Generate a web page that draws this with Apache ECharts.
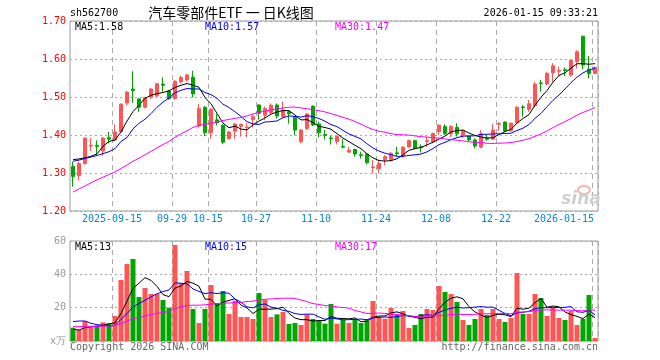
<!DOCTYPE html>
<html><head><meta charset="utf-8">
<script src="https://cdn.jsdelivr.net/npm/echarts@6/dist/echarts.min.js"></script>
<style>html,body{margin:0;padding:0;background:#fff}#c{width:660px;height:360px}</style>
</head><body><div id="c"></div>
<script>
const dates = [
'2025-09-04','2025-09-05','2025-09-08','2025-09-09','2025-09-10','2025-09-11','2025-09-12','2025-09-15','2025-09-16','2025-09-17',
'2025-09-18','2025-09-19','2025-09-22','2025-09-23','2025-09-24','2025-09-25','2025-09-26','2025-09-29','2025-09-30','2025-10-09',
'2025-10-10','2025-10-13','2025-10-14','2025-10-15','2025-10-16','2025-10-17','2025-10-20','2025-10-21','2025-10-22','2025-10-23',
'2025-10-24','2025-10-27','2025-10-28','2025-10-29','2025-10-30','2025-10-31','2025-11-03','2025-11-04','2025-11-05','2025-11-06',
'2025-11-07','2025-11-10','2025-11-11','2025-11-12','2025-11-13','2025-11-14','2025-11-17','2025-11-18','2025-11-19','2025-11-20',
'2025-11-21','2025-11-24','2025-11-25','2025-11-26','2025-11-27','2025-11-28','2025-12-01','2025-12-02','2025-12-03','2025-12-04',
'2025-12-05','2025-12-08','2025-12-09','2025-12-10','2025-12-11','2025-12-12','2025-12-15','2025-12-16','2025-12-17','2025-12-18',
'2025-12-19','2025-12-22','2025-12-23','2025-12-24','2025-12-25','2025-12-26','2025-12-29','2025-12-30','2025-12-31','2026-01-05',
'2026-01-06','2026-01-07','2026-01-08','2026-01-09','2026-01-12','2026-01-13','2026-01-14','2026-01-15'];

const opens = [1.317,1.293,1.325,1.371,1.373,1.358,1.393,1.387,1.409,1.484,
1.521,1.495,1.473,1.500,1.503,1.534,1.516,1.496,1.540,1.545,
1.552,1.424,1.473,1.406,1.440,1.425,1.391,1.410,1.423,1.419,
1.441,1.479,1.452,1.459,1.479,1.448,1.461,1.447,1.382,1.417,
1.476,1.429,1.401,1.392,1.383,1.370,1.355,1.362,1.348,1.350,
1.314,1.311,1.335,1.336,1.353,1.345,1.369,1.385,1.369,1.383,
1.382,1.409,1.422,1.403,1.420,1.400,1.397,1.387,1.368,1.392,
1.389,1.428,1.434,1.411,1.432,1.474,1.468,1.477,1.537,1.534,
1.564,1.568,1.572,1.558,1.593,1.660,1.573,1.562];
const closes = [1.291,1.325,1.392,1.373,1.370,1.392,1.389,1.408,1.481,1.513,
1.517,1.473,1.499,1.521,1.535,1.531,1.496,1.541,1.551,1.558,
1.508,1.470,1.406,1.468,1.432,1.381,1.408,1.429,1.428,1.421,
1.448,1.457,1.470,1.478,1.450,1.466,1.456,1.413,1.413,1.455,
1.426,1.406,1.399,1.390,1.396,1.368,1.360,1.350,1.346,1.327,
1.316,1.325,1.343,1.352,1.351,1.368,1.385,1.365,1.367,1.385,
1.404,1.426,1.404,1.422,1.403,1.410,1.387,1.371,1.403,1.389,
1.413,1.430,1.411,1.431,1.473,1.472,1.482,1.534,1.535,1.562,
1.582,1.570,1.570,1.596,1.619,1.584,1.562,1.578];
const lows = [1.264,1.280,1.322,1.358,1.347,1.345,1.378,1.385,1.405,1.478,
1.485,1.461,1.470,1.495,1.500,1.514,1.492,1.492,1.536,1.540,
1.499,1.420,1.397,1.390,1.425,1.376,1.388,1.390,1.396,1.394,
1.420,1.440,1.440,1.455,1.443,1.445,1.430,1.399,1.378,1.413,
1.423,1.394,1.388,1.375,1.375,1.365,1.353,1.343,1.338,1.323,
1.299,1.299,1.320,1.330,1.343,1.340,1.366,1.362,1.354,1.369,
1.378,1.400,1.400,1.395,1.396,1.392,1.384,1.365,1.365,1.385,
1.387,1.411,1.409,1.409,1.430,1.448,1.461,1.473,1.514,1.531,
1.540,1.555,1.555,1.553,1.575,1.573,1.549,1.560];
const highs = [1.330,1.330,1.393,1.392,1.386,1.395,1.408,1.428,1.483,1.515,
1.568,1.497,1.500,1.524,1.537,1.552,1.518,1.545,1.556,1.560,
1.569,1.482,1.476,1.470,1.455,1.428,1.410,1.432,1.430,1.431,
1.455,1.481,1.475,1.483,1.483,1.488,1.466,1.450,1.415,1.458,
1.478,1.435,1.413,1.398,1.398,1.389,1.369,1.364,1.356,1.352,
1.334,1.334,1.347,1.356,1.369,1.370,1.388,1.388,1.375,1.396,
1.406,1.428,1.428,1.426,1.431,1.414,1.399,1.391,1.413,1.400,
1.429,1.435,1.436,1.433,1.476,1.479,1.492,1.540,1.545,1.566,
1.589,1.580,1.578,1.600,1.623,1.661,1.608,1.580];
const volumes = [8.0,6.6,12,8.4,9.2,11.2,10.6,15,36.6,46.2,
49.2,26.4,31.8,28.2,28.2,24.6,20,57.6,34.6,42,
19.2,10.8,19.2,33.6,22.8,30,16.2,24.2,14.4,14.4,
13.2,28.8,24.8,14.4,16,17.4,10.2,10.8,9.6,16,
13.2,12,10.4,22.2,10.4,12.6,10.8,13.2,10.8,12.4,
24,14.6,13.4,19.8,15.6,18,7.8,9.6,16.2,19.2,
18.6,33,29.4,28.2,23.4,12.6,9.6,13.2,19.2,15.6,
19.2,13.2,11.4,13.8,40.8,16.2,16.2,28.2,25.8,15,
19.8,13.8,12.6,18,9.6,13.2,27.6,1.8];

// moving-average values before enough in-window days exist
const priceMa5Head = [1.335,1.337,1.340,1.344];
const priceMa10Head = [1.331,1.334,1.338,1.342,1.346,1.351,1.356,1.364,1.383];
const priceMa30Head = [1.250,1.258,1.266,1.274,1.282,1.289,1.296,1.303,1.312,1.321,1.331,1.339,1.348,1.357,1.366,1.375,1.383,1.394,1.403,1.411,1.420,1.425,1.428,1.431,1.434,1.438,1.441,1.444,1.446];
const volMa5Head = [7,6.6,8,8.6];
const volMa10Head = [11.6,12,12,10.6,9.8,9.4,9,9.4,13];
const volMa30Head = [8.6,8.6,8.8,8.8,8.8,9.0,9.0,9.4,10.5,11.9,13.4,14.1,15.0,15.8,16.6,17.2,17.7,19.5,20.5,21.3,21.5,21.5,21.7,22.2,22.4,22.7,22.8,23.0,23.2];

const tickDates = ['2025-09-15','2025-09-29','2025-10-15','2025-10-27','2025-11-10','2025-11-24','2025-12-08','2025-12-22','2026-01-15'];
const tickTexts = ['2025-09-15','09-29','10-15','10-27','11-10','11-24','12-08','12-22','2026-01-15'];
const priceTicks = [1.2,1.7,0.1];
const volTicks = [0,60,20];

const UP = '#ff5555', DOWN = '#00a600';
const MONO = 'DejaVu Sans Mono';

function ma(src, n, head) {
  return src.map((_, i) => {
    if (i < n - 1) return head[i];
    let s = 0; for (let k = i - n + 1; k <= i; k++) s += src[k];
    return +(s / n).toFixed(4);
  });
}
const tickSet = new Set(tickDates.map(d => dates.indexOf(d)));
const tickMap = {}; tickDates.forEach((d, k) => tickMap[d] = tickTexts[k]);
const lastTick = tickDates[tickDates.length - 1];

const kData = dates.map((_, i) => [opens[i], closes[i], lows[i], highs[i]]);
const volData = volumes.map((v, i) => ({ value: v, itemStyle: { color: closes[i] >= opens[i] ? UP : DOWN } }));

const vLine = { show: true, interval: (i) => tickSet.has(i), lineStyle: { color: '#aaa', type: [5, 4], width: 1 } };

function t(x, y, text, color, opt) {
  return Object.assign({ type: 'text', x: x, y: y, z: 100,
    style: Object.assign({ text: text, fill: color, font: '10px "' + MONO + '"', align: 'left', verticalAlign: 'middle' }, opt || {}) });
}

const chart = echarts.init(document.getElementById('c'), null, { renderer: 'canvas' });
chart.setOption({
  animation: false,
  backgroundColor: '#fff',
  grid: [
    { left: 70, right: 62, top: 21, height: 190, show: true, borderColor: '#9a9a9a', borderWidth: 1 },
    { left: 70, right: 62, top: 241, height: 100, show: true, borderColor: '#9a9a9a', borderWidth: 1 }
  ],
  xAxis: [
    { type: 'category', data: dates, gridIndex: 0, boundaryGap: true,
      axisLine: { show: false }, axisTick: { show: false },
      axisLabel: { interval: (i) => tickSet.has(i), margin: 3, color: '#0a86d2', fontFamily: MONO, fontSize: 10,
        formatter: (v) => v === lastTick ? '{l|' + tickMap[v] + '}' : '{n|' + tickMap[v] + '}',
        rich: { n: { padding: [0, 6, 0, 0], color: '#0a86d2', fontFamily: MONO, fontSize: 10 },
                l: { padding: [0, 62, 0, 0], color: '#0a86d2', fontFamily: MONO, fontSize: 10 } } },
      splitLine: vLine },
    { type: 'category', data: dates, gridIndex: 1, boundaryGap: true,
      axisLine: { show: false }, axisTick: { show: false }, axisLabel: { show: false },
      splitLine: vLine }
  ],
  yAxis: [
    { type: 'value', gridIndex: 0, min: priceTicks[0], max: priceTicks[1], interval: priceTicks[2],
      axisLine: { show: false }, axisTick: { show: false },
      axisLabel: { color: '#ff0000', fontFamily: MONO, fontSize: 10, margin: 4, formatter: (v) => v.toFixed(2) },
      splitLine: { lineStyle: { color: '#aaa', type: [2, 3] } } },
    { type: 'value', gridIndex: 1, min: volTicks[0], max: volTicks[1], interval: volTicks[2],
      axisLine: { show: false }, axisTick: { show: false },
      axisLabel: { color: '#999', fontFamily: MONO, fontSize: 10, margin: 4, formatter: (v) => v === 0 ? 'x万' : String(v) },
      splitLine: { lineStyle: { color: '#aaa', type: [2, 3] } } }
  ],
  series: [
    { type: 'candlestick', xAxisIndex: 0, yAxisIndex: 0, data: kData, barWidth: 4, z: 2,
      itemStyle: { color: UP, color0: DOWN, borderColor: UP, borderColor0: DOWN, borderWidth: 1 } },
    { type: 'line', xAxisIndex: 0, yAxisIndex: 0, data: ma(closes, 5, priceMa5Head), showSymbol: false, z: 5,
      lineStyle: { color: '#000', width: 1 }, silent: true },
    { type: 'line', xAxisIndex: 0, yAxisIndex: 0, data: ma(closes, 10, priceMa10Head), showSymbol: false, z: 5,
      lineStyle: { color: '#0000ff', width: 1 }, silent: true },
    { type: 'line', xAxisIndex: 0, yAxisIndex: 0, data: ma(closes, 30, priceMa30Head), showSymbol: false, z: 5,
      lineStyle: { color: '#ff00ff', width: 1 }, silent: true },
    { type: 'bar', xAxisIndex: 1, yAxisIndex: 1, data: volData, barWidth: 5, z: 2 },
    { type: 'line', xAxisIndex: 1, yAxisIndex: 1, data: ma(volumes, 5, volMa5Head), showSymbol: false, z: 5,
      lineStyle: { color: '#000', width: 1 }, silent: true },
    { type: 'line', xAxisIndex: 1, yAxisIndex: 1, data: ma(volumes, 10, volMa10Head), showSymbol: false, z: 5,
      lineStyle: { color: '#0000ff', width: 1 }, silent: true },
    { type: 'line', xAxisIndex: 1, yAxisIndex: 1, data: ma(volumes, 30, volMa30Head), showSymbol: false, z: 5,
      lineStyle: { color: '#ff00ff', width: 1 }, silent: true }
  ],
  graphic: [
    t(70, 13, 'sh562700', '#000'),
    t(231, 13, '汽车零部件ETF 一 日K线图', '#000', { align: 'center', font: '14px "Noto Sans CJK SC"' }),
    t(598, 13, '2026-01-15 09:33:21', '#000', { align: 'right' }),
    t(75, 27, 'MA5:1.58', '#000'),
    t(205, 27, 'MA10:1.57', '#0000ff'),
    t(335, 27, 'MA30:1.47', '#ff00ff'),
    t(75, 247, 'MA5:13', '#000'),
    t(205, 247, 'MA10:15', '#0000ff'),
    t(335, 247, 'MA30:17', '#ff00ff'),
    t(70, 347, 'Copyright 2026 SINA.COM', '#666'),
    t(598, 347, 'http://finance.sina.com.cn', '#666', { align: 'right' }),
    { type: 'ellipse', shape: { cx: 584, cy: 190, rx: 6, ry: 4 }, z: 1, style: { fill: 'none', stroke: '#f2b8b8', lineWidth: 2 } },
    t(581, 200, 'sina', '#cfcfcf', { align: 'center', font: 'italic bold 17px "DejaVu Sans"' })
  ]
});
</script>
</body></html>
